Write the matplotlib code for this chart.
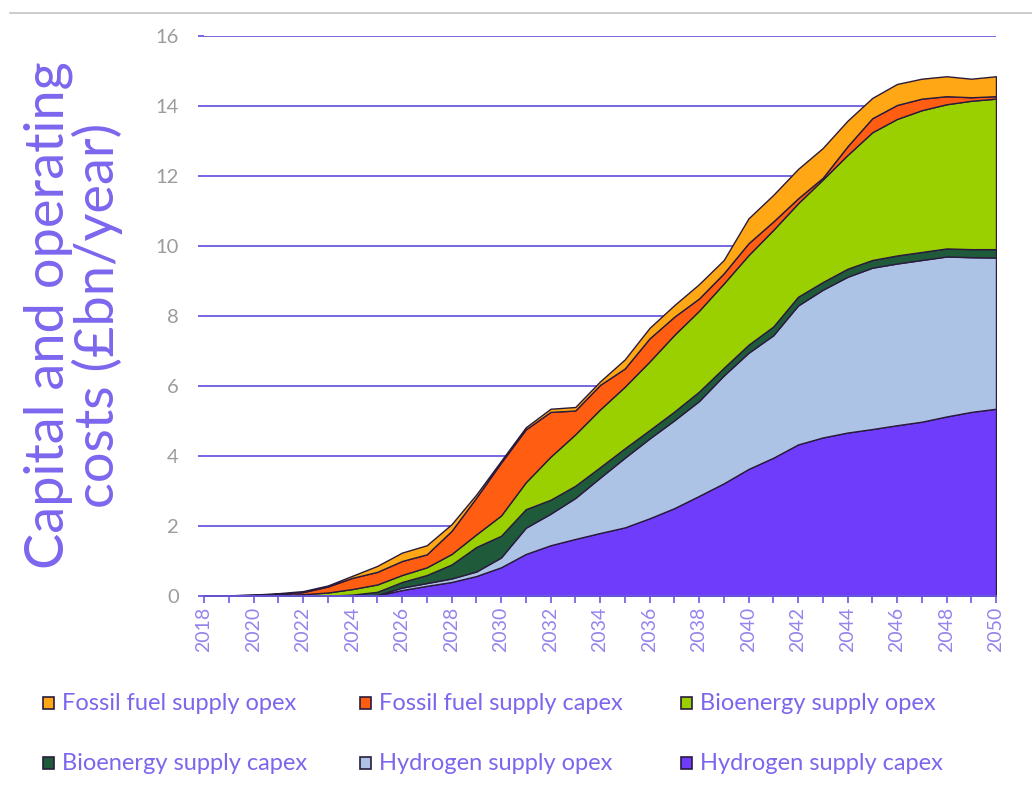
import matplotlib
matplotlib.use("Agg")
import matplotlib.pyplot as plt
from matplotlib.patches import Rectangle
from matplotlib.lines import Line2D

plt.rcParams['font.family'] = ['Lato', 'DejaVu Sans']

years = list(range(2018, 2051))

# values in £bn/year (stacked bottom to top)
hydrogen_capex = [0, 0, 0, 0, 0, 0, 0, 0.02, 0.17, 0.29, 0.40, 0.57, 0.82, 1.20, 1.45, 1.63, 1.80,
                  1.96, 2.22, 2.51, 2.86, 3.22, 3.63, 3.95, 4.33, 4.53, 4.67, 4.77, 4.88, 4.98, 5.13,
                  5.26, 5.35]
hydrogen_opex = [0, 0, 0, 0, 0, 0, 0, 0.01, 0.07, 0.08, 0.10, 0.13, 0.28, 0.75, 0.90, 1.17, 1.58,
                 1.99, 2.28, 2.51, 2.71, 3.08, 3.32, 3.50, 3.97, 4.22, 4.45, 4.61, 4.62, 4.62, 4.57,
                 4.42, 4.32]
bio_capex = [0, 0, 0, 0, 0, 0.01, 0.04, 0.09, 0.16, 0.23, 0.40, 0.70, 0.62, 0.53, 0.40, 0.35, 0.30,
             0.27, 0.24, 0.25, 0.27, 0.22, 0.23, 0.25, 0.25, 0.22, 0.23, 0.22, 0.23, 0.23, 0.23,
             0.23, 0.24]
bio_opex = [0, 0.01, 0.02, 0.03, 0.05, 0.09, 0.16, 0.21, 0.20, 0.22, 0.30, 0.36, 0.58, 0.77, 1.23,
            1.47, 1.65, 1.76, 1.96, 2.19, 2.31, 2.41, 2.56, 2.76, 2.67, 2.93, 3.25, 3.65, 3.90,
            4.05, 4.12, 4.24, 4.30]
fossil_capex = [0, 0.01, 0.01, 0.03, 0.06, 0.17, 0.32, 0.36, 0.40, 0.37, 0.66, 1.05, 1.51, 1.51,
                1.28, 0.68, 0.70, 0.52, 0.66, 0.52, 0.35, 0.29, 0.34, 0.24, 0.14, 0.05, 0.25, 0.40,
                0.40, 0.33, 0.23, 0.10, 0.07]
fossil_opex = [0, 0, 0.01, 0.02, 0.03, 0.03, 0.06, 0.17, 0.24, 0.26, 0.19, 0.09, 0.05, 0.06, 0.09,
               0.10, 0.10, 0.26, 0.30, 0.33, 0.41, 0.38, 0.71, 0.76, 0.84, 0.85, 0.73, 0.58, 0.60,
               0.57, 0.57, 0.53, 0.57]

series = [hydrogen_capex, hydrogen_opex, bio_capex, bio_opex, fossil_capex, fossil_opex]
labels = ["Hydrogen supply capex", "Hydrogen supply opex", "Bioenergy supply capex",
          "Bioenergy supply opex", "Fossil fuel supply capex", "Fossil fuel supply opex"]
colors = ["#6f3cfc", "#adc3e6", "#1f5a3b", "#9bd000", "#ff5e12", "#ffa714"]

grid_col = "#6a5ae0"
text_col = "#7c66ee"
edge_col = "#2a1b3d"

fig = plt.figure(figsize=(10.32, 7.99), dpi=100)
ax = fig.add_axes([204 / 1032, 1 - 596 / 799, 792 / 1032, 560 / 799])

ax.stackplot(years, *series, colors=colors, edgecolor=edge_col, linewidth=1.0)

ax.set_xlim(2018, 2050)
ax.set_ylim(0, 16)
ax.set_yticks(range(0, 17, 2))
ax.set_xticks(range(2018, 2051, 2))
ax.set_xticks(range(2018, 2051), minor=True)
ax.yaxis.grid(True, color=grid_col, linewidth=1.3)
ax.set_axisbelow(True)
for s in ["top", "right", "left"]:
    ax.spines[s].set_visible(False)
ax.spines["bottom"].set_color(grid_col)
ax.spines["bottom"].set_linewidth(1.3)
ax.spines["bottom"].set_zorder(5)

ax.tick_params(axis="y", length=4, color=grid_col, width=1.3, labelcolor="#9c9c9c",
               labelsize=14.5, pad=14)
ax.tick_params(axis="x", which="both", direction="out", length=5, color=grid_col, width=1.2)
ax.tick_params(axis="x", which="major", labelrotation=90, labelcolor="#9385ec", labelsize=14,
               pad=3)

fig.text(73 / 1032, 1 - 315 / 799, "Capital and operating\ncosts (£bn/year)", rotation=90,
         ha="center", va="center", multialignment="center", fontsize=39, color=text_col,
         linespacing=0.98)

# legend laid out as in the original (3 columns, 2 rows)
order = [5, 4, 3, 2, 1, 0]
col_x = [43, 360, 681]
row_y = [703, 763]
for k, idx in enumerate(order):
    x = col_x[k % 3]
    y = row_y[k // 3]
    fig.patches.append(Rectangle((x / 1032, 1 - (y + 6) / 799), 11 / 1032, 12 / 799,
                                 transform=fig.transFigure, facecolor=colors[idx],
                                 edgecolor=edge_col, linewidth=1.2))
    fig.text((x + 19) / 1032, 1 - y / 799, labels[idx], ha="left", va="center",
             fontsize=17, color=text_col)

fig.add_artist(Line2D([10 / 1032, 1], [1 - 13 / 799, 1 - 13 / 799], color="#c4c4c4",
                      linewidth=1.2))

fig.savefig("out.png", dpi=100, facecolor="white")
